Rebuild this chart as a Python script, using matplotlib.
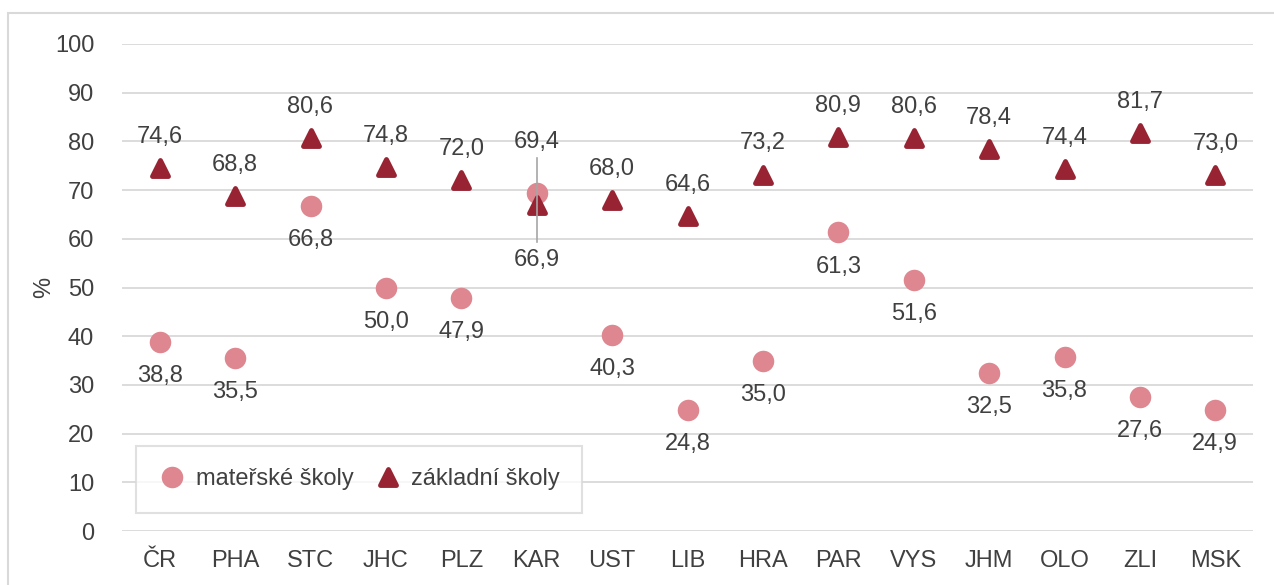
import numpy as np
import matplotlib.pyplot as plt
from matplotlib.markers import MarkerStyle
from matplotlib.patches import Rectangle

plt.rcParams['font.family'] = ['Liberation Sans', 'DejaVu Sans']

kraje = ['ČR', 'PHA', 'STC', 'JHC', 'PLZ', 'KAR', 'UST', 'LIB', 'HRA', 'PAR',
         'VYS', 'JHM', 'OLO', 'ZLI', 'MSK']
materske = [38.8, 35.5, 66.8, 50.0, 47.9, 69.4, 40.3, 24.8, 35.0, 61.3,
            51.6, 32.5, 35.8, 27.6, 24.9]
zakladni = [74.6, 68.8, 80.6, 74.8, 72.0, 66.9, 68.0, 64.6, 73.2, 80.9,
            80.6, 78.4, 74.4, 81.7, 73.0]

c_ms = '#DE8790'
c_zs = '#982433'
c_txt = '#404040'
fs = 17

fig = plt.figure(figsize=(12.74, 5.85), dpi=100)
ax = fig.add_axes([122 / 1274, 1 - 531 / 585, 1131 / 1274, 487 / 585])

# ramecek kolem celeho grafu
fig.patches.append(Rectangle((8 / 1274, -0.01), 1.02, 1 - 13 / 585 + 0.01,
                             transform=fig.transFigure, fill=False,
                             edgecolor='#D9D9D9', lw=1.5))

x = np.arange(len(kraje))
tri = MarkerStyle('^', joinstyle='round')
ax.plot(x, materske, ls='none', marker='o', ms=15.5, color=c_ms, mew=0,
        zorder=3, label='mateřské školy')
ax.plot(x, zakladni, ls='none', marker=tri, ms=12, color=c_zs, mew=3.5,
        mec=c_zs, zorder=4, label='základní školy')

def fmt(v):
    return f'{v:.1f}'.replace('.', ',')

for i in range(len(kraje)):
    if kraje[i] == 'KAR':
        # popisky prohozene, s vodici carou
        ax.text(x[i], materske[i] + 10.5, fmt(materske[i]),
                ha='center', va='center', fontsize=fs, color=c_txt)
        ax.text(x[i], zakladni[i] - 11.3, fmt(zakladni[i]),
                ha='center', va='center', fontsize=fs, color=c_txt)
        ax.plot([x[i], x[i]], [59.3, 76.6], color='#A6A6A6', lw=1.2, zorder=5)
    else:
        ax.text(x[i], zakladni[i] + 6.4, fmt(zakladni[i]),
                ha='center', va='center', fontsize=fs, color=c_txt)
        ax.text(x[i], materske[i] - 7.0, fmt(materske[i]),
                ha='center', va='center', fontsize=fs, color=c_txt)

ax.set_xlim(-0.5, len(kraje) - 0.5)
ax.set_ylim(0, 100)
ax.set_yticks(np.arange(0, 101, 10))
ax.set_xticks(x)
ax.set_xticklabels(kraje)
ax.tick_params(axis='both', length=0, labelsize=fs, labelcolor=c_txt)
ax.tick_params(axis='y', pad=20)
ax.tick_params(axis='x', pad=14)
ax.grid(axis='y', color='#D9D9D9', lw=1.3)
ax.set_axisbelow(True)
for s in ax.spines.values():
    s.set_visible(False)
ax.set_ylabel('%', fontsize=fs, color=c_txt, labelpad=0)

leg = ax.legend(loc='lower left', bbox_to_anchor=(0.0015, 0.013), fontsize=fs,
                frameon=True, fancybox=False, edgecolor='#D9D9D9',
                handletextpad=0.4, columnspacing=0.85, ncol=2,
                borderpad=0.95, handlelength=1.2)
leg.get_frame().set_linewidth(1.5)
for t in leg.get_texts():
    t.set_color(c_txt)

fig.savefig('out.png', dpi=100)
